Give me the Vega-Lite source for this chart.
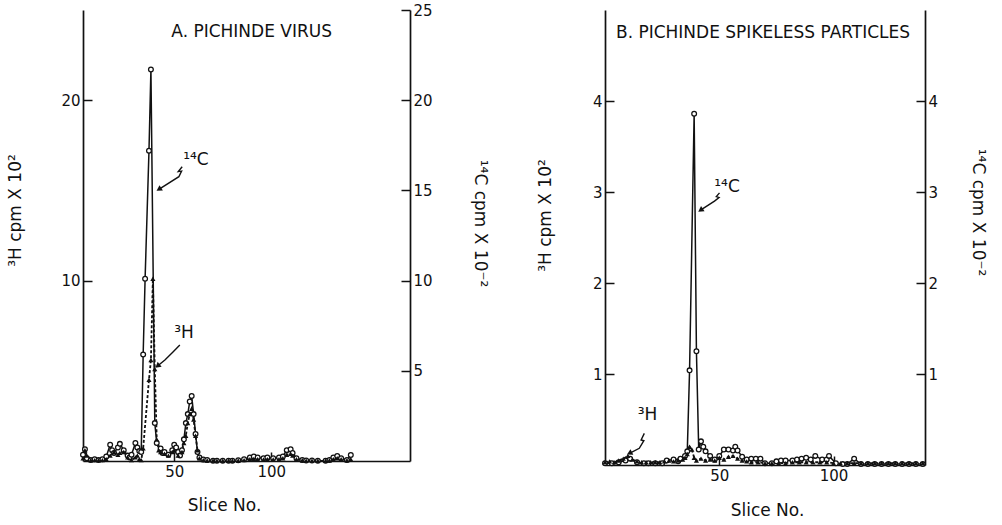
{
  "$schema": "https://vega.github.io/schema/vega-lite/v6.json",
  "background": "white",
  "padding": {"left": 6, "top": 3, "right": 5, "bottom": 5},
  "spacing": 48,
  "config": {
    "view": {"stroke": null},
    "font": "DejaVu Sans",
    "axis": {
      "grid": false,
      "domainColor": "#111",
      "domainWidth": 1.7,
      "tickColor": "#111",
      "tickWidth": 1.5,
      "tickSize": -9,
      "labelPadding": 12,
      "labelColor": "#111",
      "titleColor": "#111",
      "labelFont": "DejaVu Sans",
      "titleFont": "DejaVu Sans",
      "labelFontSize": 15,
      "titleFontSize": 17,
      "titleFontWeight": "normal",
      "titleBaseline": "middle"
    }
  },
  "datasets": {
    "curves": [
      {"panel":"A","isotope":"14C","slice":3,"cpm":0.35},{"panel":"A","isotope":"14C","slice":4,"cpm":0.65},{"panel":"A","isotope":"14C","slice":5,"cpm":0.15},{"panel":"A","isotope":"14C","slice":7,"cpm":0.05},{"panel":"A","isotope":"14C","slice":9,"cpm":0.1},{"panel":"A","isotope":"14C","slice":11,"cpm":0.05},{"panel":"A","isotope":"14C","slice":13,"cpm":0.1},{"panel":"A","isotope":"14C","slice":15,"cpm":0.25},{"panel":"A","isotope":"14C","slice":17,"cpm":0.9},{"panel":"A","isotope":"14C","slice":18,"cpm":0.6},{"panel":"A","isotope":"14C","slice":19,"cpm":0.45},{"panel":"A","isotope":"14C","slice":21,"cpm":0.75},{"panel":"A","isotope":"14C","slice":22,"cpm":0.95},{"panel":"A","isotope":"14C","slice":24,"cpm":0.6},{"panel":"A","isotope":"14C","slice":26,"cpm":0.3},{"panel":"A","isotope":"14C","slice":27,"cpm":0.2},{"panel":"A","isotope":"14C","slice":28,"cpm":0.35},{"panel":"A","isotope":"14C","slice":30,"cpm":1.0},{"panel":"A","isotope":"14C","slice":31,"cpm":0.75},{"panel":"A","isotope":"14C","slice":32,"cpm":0.55},{"panel":"A","isotope":"14C","slice":33,"cpm":0.5},{"panel":"A","isotope":"14C","slice":34,"cpm":5.9},{"panel":"A","isotope":"14C","slice":35,"cpm":10.1},{"panel":"A","isotope":"14C","slice":37,"cpm":17.2},{"panel":"A","isotope":"14C","slice":38,"cpm":21.7},{"panel":"A","isotope":"14C","slice":40,"cpm":2.1},{"panel":"A","isotope":"14C","slice":41,"cpm":1.0},{"panel":"A","isotope":"14C","slice":43,"cpm":0.7},{"panel":"A","isotope":"14C","slice":44,"cpm":0.45},{"panel":"A","isotope":"14C","slice":45,"cpm":0.5},{"panel":"A","isotope":"14C","slice":47,"cpm":0.35},{"panel":"A","isotope":"14C","slice":49,"cpm":0.6},{"panel":"A","isotope":"14C","slice":50,"cpm":0.9},{"panel":"A","isotope":"14C","slice":51,"cpm":0.75},{"panel":"A","isotope":"14C","slice":52,"cpm":0.5},{"panel":"A","isotope":"14C","slice":53,"cpm":0.3},{"panel":"A","isotope":"14C","slice":54,"cpm":0.6},{"panel":"A","isotope":"14C","slice":55,"cpm":1.2},{"panel":"A","isotope":"14C","slice":56,"cpm":2.1},{"panel":"A","isotope":"14C","slice":57,"cpm":2.6},{"panel":"A","isotope":"14C","slice":58,"cpm":3.3},{"panel":"A","isotope":"14C","slice":59,"cpm":3.6},{"panel":"A","isotope":"14C","slice":60,"cpm":2.6},{"panel":"A","isotope":"14C","slice":61,"cpm":1.5},{"panel":"A","isotope":"14C","slice":62,"cpm":0.5},{"panel":"A","isotope":"14C","slice":63,"cpm":0.2},{"panel":"A","isotope":"14C","slice":65,"cpm":0.08},{"panel":"A","isotope":"14C","slice":67,"cpm":0.06},{"panel":"A","isotope":"14C","slice":70,"cpm":0.02},{"panel":"A","isotope":"14C","slice":72,"cpm":0.02},{"panel":"A","isotope":"14C","slice":75,"cpm":0.02},{"panel":"A","isotope":"14C","slice":78,"cpm":0.02},{"panel":"A","isotope":"14C","slice":80,"cpm":0.02},{"panel":"A","isotope":"14C","slice":83,"cpm":0.04},{"panel":"A","isotope":"14C","slice":86,"cpm":0.1},{"panel":"A","isotope":"14C","slice":89,"cpm":0.2},{"panel":"A","isotope":"14C","slice":91,"cpm":0.25},{"panel":"A","isotope":"14C","slice":93,"cpm":0.2},{"panel":"A","isotope":"14C","slice":96,"cpm":0.15},{"panel":"A","isotope":"14C","slice":98,"cpm":0.2},{"panel":"A","isotope":"14C","slice":101,"cpm":0.15},{"panel":"A","isotope":"14C","slice":104,"cpm":0.2},{"panel":"A","isotope":"14C","slice":106,"cpm":0.25},{"panel":"A","isotope":"14C","slice":108,"cpm":0.6},{"panel":"A","isotope":"14C","slice":110,"cpm":0.65},{"panel":"A","isotope":"14C","slice":111,"cpm":0.45},{"panel":"A","isotope":"14C","slice":113,"cpm":0.15},{"panel":"A","isotope":"14C","slice":116,"cpm":0.06},{"panel":"A","isotope":"14C","slice":118,"cpm":0.03},{"panel":"A","isotope":"14C","slice":121,"cpm":0.03},{"panel":"A","isotope":"14C","slice":124,"cpm":0.02},{"panel":"A","isotope":"14C","slice":128,"cpm":0.02},{"panel":"A","isotope":"14C","slice":130,"cpm":0.06},{"panel":"A","isotope":"14C","slice":132,"cpm":0.2},{"panel":"A","isotope":"14C","slice":134,"cpm":0.28},{"panel":"A","isotope":"14C","slice":136,"cpm":0.15},{"panel":"A","isotope":"14C","slice":139,"cpm":0.06},{"panel":"A","isotope":"14C","slice":141,"cpm":0.33},
      {"panel":"A","isotope":"3H","slice":3,"cpm":0.15},{"panel":"A","isotope":"3H","slice":4,"cpm":0.6},{"panel":"A","isotope":"3H","slice":5,"cpm":0.3},{"panel":"A","isotope":"3H","slice":7,"cpm":0.05},{"panel":"A","isotope":"3H","slice":9,"cpm":0.05},{"panel":"A","isotope":"3H","slice":11,"cpm":0.05},{"panel":"A","isotope":"3H","slice":13,"cpm":0.05},{"panel":"A","isotope":"3H","slice":15,"cpm":0.1},{"panel":"A","isotope":"3H","slice":17,"cpm":0.3},{"panel":"A","isotope":"3H","slice":19,"cpm":0.5},{"panel":"A","isotope":"3H","slice":21,"cpm":0.35},{"panel":"A","isotope":"3H","slice":22,"cpm":0.45},{"panel":"A","isotope":"3H","slice":24,"cpm":0.5},{"panel":"A","isotope":"3H","slice":26,"cpm":0.2},{"panel":"A","isotope":"3H","slice":28,"cpm":0.05},{"panel":"A","isotope":"3H","slice":30,"cpm":0.2},{"panel":"A","isotope":"3H","slice":31,"cpm":0.3},{"panel":"A","isotope":"3H","slice":32,"cpm":0.1},{"panel":"A","isotope":"3H","slice":33,"cpm":0.05},{"panel":"A","isotope":"3H","slice":34,"cpm":0.7},{"panel":"A","isotope":"3H","slice":37,"cpm":4.5},{"panel":"A","isotope":"3H","slice":38,"cpm":5.6},{"panel":"A","isotope":"3H","slice":39,"cpm":10.1},{"panel":"A","isotope":"3H","slice":40,"cpm":5.1},{"panel":"A","isotope":"3H","slice":41,"cpm":1.2},{"panel":"A","isotope":"3H","slice":42,"cpm":0.6},{"panel":"A","isotope":"3H","slice":43,"cpm":0.5},{"panel":"A","isotope":"3H","slice":45,"cpm":0.4},{"panel":"A","isotope":"3H","slice":47,"cpm":0.3},{"panel":"A","isotope":"3H","slice":49,"cpm":0.5},{"panel":"A","isotope":"3H","slice":50,"cpm":0.6},{"panel":"A","isotope":"3H","slice":52,"cpm":0.3},{"panel":"A","isotope":"3H","slice":54,"cpm":0.5},{"panel":"A","isotope":"3H","slice":55,"cpm":1.0},{"panel":"A","isotope":"3H","slice":56,"cpm":1.4},{"panel":"A","isotope":"3H","slice":57,"cpm":2.1},{"panel":"A","isotope":"3H","slice":58,"cpm":2.6},{"panel":"A","isotope":"3H","slice":59,"cpm":2.9},{"panel":"A","isotope":"3H","slice":60,"cpm":2.3},{"panel":"A","isotope":"3H","slice":61,"cpm":1.4},{"panel":"A","isotope":"3H","slice":62,"cpm":0.6},{"panel":"A","isotope":"3H","slice":63,"cpm":0.15},{"panel":"A","isotope":"3H","slice":65,"cpm":0.05},{"panel":"A","isotope":"3H","slice":67,"cpm":0.03},{"panel":"A","isotope":"3H","slice":70,"cpm":0.03},{"panel":"A","isotope":"3H","slice":72,"cpm":0.02},{"panel":"A","isotope":"3H","slice":75,"cpm":0.02},{"panel":"A","isotope":"3H","slice":78,"cpm":0.02},{"panel":"A","isotope":"3H","slice":80,"cpm":0.02},{"panel":"A","isotope":"3H","slice":83,"cpm":0.03},{"panel":"A","isotope":"3H","slice":86,"cpm":0.05},{"panel":"A","isotope":"3H","slice":89,"cpm":0.1},{"panel":"A","isotope":"3H","slice":91,"cpm":0.12},{"panel":"A","isotope":"3H","slice":93,"cpm":0.1},{"panel":"A","isotope":"3H","slice":96,"cpm":0.08},{"panel":"A","isotope":"3H","slice":98,"cpm":0.1},{"panel":"A","isotope":"3H","slice":101,"cpm":0.08},{"panel":"A","isotope":"3H","slice":104,"cpm":0.1},{"panel":"A","isotope":"3H","slice":106,"cpm":0.15},{"panel":"A","isotope":"3H","slice":108,"cpm":0.35},{"panel":"A","isotope":"3H","slice":110,"cpm":0.4},{"panel":"A","isotope":"3H","slice":111,"cpm":0.3},{"panel":"A","isotope":"3H","slice":113,"cpm":0.1},{"panel":"A","isotope":"3H","slice":116,"cpm":0.04},{"panel":"A","isotope":"3H","slice":118,"cpm":0.02},{"panel":"A","isotope":"3H","slice":121,"cpm":0.02},{"panel":"A","isotope":"3H","slice":124,"cpm":0.02},{"panel":"A","isotope":"3H","slice":128,"cpm":0.02},{"panel":"A","isotope":"3H","slice":130,"cpm":0.04},{"panel":"A","isotope":"3H","slice":132,"cpm":0.1},{"panel":"A","isotope":"3H","slice":134,"cpm":0.15},{"panel":"A","isotope":"3H","slice":136,"cpm":0.1},{"panel":"A","isotope":"3H","slice":139,"cpm":0.04},{"panel":"A","isotope":"3H","slice":141,"cpm":0.1},
      {"panel":"B","isotope":"14C","slice":0,"cpm":0.02},{"panel":"B","isotope":"14C","slice":3,"cpm":0.02},{"panel":"B","isotope":"14C","slice":6,"cpm":0.03},{"panel":"B","isotope":"14C","slice":9,"cpm":0.05},{"panel":"B","isotope":"14C","slice":11,"cpm":0.07},{"panel":"B","isotope":"14C","slice":14,"cpm":0.03},{"panel":"B","isotope":"14C","slice":17,"cpm":0.02},{"panel":"B","isotope":"14C","slice":19,"cpm":0.02},{"panel":"B","isotope":"14C","slice":22,"cpm":0.02},{"panel":"B","isotope":"14C","slice":25,"cpm":0.02},{"panel":"B","isotope":"14C","slice":27,"cpm":0.05},{"panel":"B","isotope":"14C","slice":30,"cpm":0.06},{"panel":"B","isotope":"14C","slice":32,"cpm":0.04},{"panel":"B","isotope":"14C","slice":33,"cpm":0.07},{"panel":"B","isotope":"14C","slice":35,"cpm":0.1},{"panel":"B","isotope":"14C","slice":36,"cpm":0.15},{"panel":"B","isotope":"14C","slice":37,"cpm":1.04},{"panel":"B","isotope":"14C","slice":39,"cpm":3.86},{"panel":"B","isotope":"14C","slice":40,"cpm":1.25},{"panel":"B","isotope":"14C","slice":41,"cpm":0.17},{"panel":"B","isotope":"14C","slice":42,"cpm":0.26},{"panel":"B","isotope":"14C","slice":43,"cpm":0.2},{"panel":"B","isotope":"14C","slice":44,"cpm":0.15},{"panel":"B","isotope":"14C","slice":46,"cpm":0.1},{"panel":"B","isotope":"14C","slice":48,"cpm":0.06},{"panel":"B","isotope":"14C","slice":50,"cpm":0.1},{"panel":"B","isotope":"14C","slice":52,"cpm":0.17},{"panel":"B","isotope":"14C","slice":54,"cpm":0.17},{"panel":"B","isotope":"14C","slice":56,"cpm":0.16},{"panel":"B","isotope":"14C","slice":57,"cpm":0.2},{"panel":"B","isotope":"14C","slice":58,"cpm":0.16},{"panel":"B","isotope":"14C","slice":60,"cpm":0.09},{"panel":"B","isotope":"14C","slice":62,"cpm":0.06},{"panel":"B","isotope":"14C","slice":64,"cpm":0.07},{"panel":"B","isotope":"14C","slice":66,"cpm":0.07},{"panel":"B","isotope":"14C","slice":68,"cpm":0.07},{"panel":"B","isotope":"14C","slice":70,"cpm":0.02},{"panel":"B","isotope":"14C","slice":73,"cpm":0.02},{"panel":"B","isotope":"14C","slice":75,"cpm":0.04},{"panel":"B","isotope":"14C","slice":77,"cpm":0.05},{"panel":"B","isotope":"14C","slice":79,"cpm":0.05},{"panel":"B","isotope":"14C","slice":82,"cpm":0.05},{"panel":"B","isotope":"14C","slice":84,"cpm":0.06},{"panel":"B","isotope":"14C","slice":86,"cpm":0.07},{"panel":"B","isotope":"14C","slice":88,"cpm":0.08},{"panel":"B","isotope":"14C","slice":90,"cpm":0.06},{"panel":"B","isotope":"14C","slice":92,"cpm":0.1},{"panel":"B","isotope":"14C","slice":95,"cpm":0.06},{"panel":"B","isotope":"14C","slice":97,"cpm":0.06},{"panel":"B","isotope":"14C","slice":98,"cpm":0.1},{"panel":"B","isotope":"14C","slice":101,"cpm":0.02},{"panel":"B","isotope":"14C","slice":104,"cpm":0.01},{"panel":"B","isotope":"14C","slice":106,"cpm":0.01},{"panel":"B","isotope":"14C","slice":109,"cpm":0.07},{"panel":"B","isotope":"14C","slice":112,"cpm":0.01},{"panel":"B","isotope":"14C","slice":115,"cpm":0.01},{"panel":"B","isotope":"14C","slice":118,"cpm":0.01},{"panel":"B","isotope":"14C","slice":121,"cpm":0.01},{"panel":"B","isotope":"14C","slice":124,"cpm":0.01},{"panel":"B","isotope":"14C","slice":127,"cpm":0.01},{"panel":"B","isotope":"14C","slice":130,"cpm":0.01},{"panel":"B","isotope":"14C","slice":133,"cpm":0.01},{"panel":"B","isotope":"14C","slice":136,"cpm":0.01},{"panel":"B","isotope":"14C","slice":139,"cpm":0.01},
      {"panel":"B","isotope":"3H","slice":0,"cpm":0.03},{"panel":"B","isotope":"3H","slice":2,"cpm":0.04},{"panel":"B","isotope":"3H","slice":4,"cpm":0.03},{"panel":"B","isotope":"3H","slice":6,"cpm":0.05},{"panel":"B","isotope":"3H","slice":8,"cpm":0.07},{"panel":"B","isotope":"3H","slice":10,"cpm":0.1},{"panel":"B","isotope":"3H","slice":12,"cpm":0.06},{"panel":"B","isotope":"3H","slice":14,"cpm":0.04},{"panel":"B","isotope":"3H","slice":16,"cpm":0.03},{"panel":"B","isotope":"3H","slice":18,"cpm":0.03},{"panel":"B","isotope":"3H","slice":20,"cpm":0.03},{"panel":"B","isotope":"3H","slice":22,"cpm":0.03},{"panel":"B","isotope":"3H","slice":24,"cpm":0.03},{"panel":"B","isotope":"3H","slice":26,"cpm":0.04},{"panel":"B","isotope":"3H","slice":28,"cpm":0.05},{"panel":"B","isotope":"3H","slice":30,"cpm":0.04},{"panel":"B","isotope":"3H","slice":32,"cpm":0.05},{"panel":"B","isotope":"3H","slice":34,"cpm":0.06},{"panel":"B","isotope":"3H","slice":35,"cpm":0.08},{"panel":"B","isotope":"3H","slice":36,"cpm":0.12},{"panel":"B","isotope":"3H","slice":37,"cpm":0.2},{"panel":"B","isotope":"3H","slice":38,"cpm":0.17},{"panel":"B","isotope":"3H","slice":39,"cpm":0.08},{"panel":"B","isotope":"3H","slice":40,"cpm":0.05},{"panel":"B","isotope":"3H","slice":42,"cpm":0.07},{"panel":"B","isotope":"3H","slice":44,"cpm":0.05},{"panel":"B","isotope":"3H","slice":46,"cpm":0.06},{"panel":"B","isotope":"3H","slice":48,"cpm":0.05},{"panel":"B","isotope":"3H","slice":50,"cpm":0.08},{"panel":"B","isotope":"3H","slice":52,"cpm":0.06},{"panel":"B","isotope":"3H","slice":54,"cpm":0.09},{"panel":"B","isotope":"3H","slice":56,"cpm":0.1},{"panel":"B","isotope":"3H","slice":58,"cpm":0.07},{"panel":"B","isotope":"3H","slice":60,"cpm":0.05},{"panel":"B","isotope":"3H","slice":62,"cpm":0.04},{"panel":"B","isotope":"3H","slice":64,"cpm":0.03},{"panel":"B","isotope":"3H","slice":67,"cpm":0.03},{"panel":"B","isotope":"3H","slice":70,"cpm":0.02},{"panel":"B","isotope":"3H","slice":73,"cpm":0.02},{"panel":"B","isotope":"3H","slice":76,"cpm":0.02},{"panel":"B","isotope":"3H","slice":79,"cpm":0.02},{"panel":"B","isotope":"3H","slice":82,"cpm":0.03},{"panel":"B","isotope":"3H","slice":85,"cpm":0.03},{"panel":"B","isotope":"3H","slice":88,"cpm":0.03},{"panel":"B","isotope":"3H","slice":91,"cpm":0.03},{"panel":"B","isotope":"3H","slice":94,"cpm":0.03},{"panel":"B","isotope":"3H","slice":97,"cpm":0.03},{"panel":"B","isotope":"3H","slice":100,"cpm":0.02},{"panel":"B","isotope":"3H","slice":103,"cpm":0.02},{"panel":"B","isotope":"3H","slice":106,"cpm":0.02},{"panel":"B","isotope":"3H","slice":109,"cpm":0.02},{"panel":"B","isotope":"3H","slice":112,"cpm":0.02},{"panel":"B","isotope":"3H","slice":115,"cpm":0.02},{"panel":"B","isotope":"3H","slice":118,"cpm":0.02},{"panel":"B","isotope":"3H","slice":121,"cpm":0.02},{"panel":"B","isotope":"3H","slice":124,"cpm":0.02},{"panel":"B","isotope":"3H","slice":127,"cpm":0.02},{"panel":"B","isotope":"3H","slice":130,"cpm":0.02},{"panel":"B","isotope":"3H","slice":133,"cpm":0.02},{"panel":"B","isotope":"3H","slice":136,"cpm":0.02},{"panel":"B","isotope":"3H","slice":139,"cpm":0.02}
    ],
    "labels": [
      {"panel":"A","label":"A. PICHINDE  VIRUS","slice":48.5,"cpm":23.8},
      {"panel":"A","label":"¹⁴C","slice":54.6,"cpm":16.7},
      {"panel":"A","label":"³H","slice":50,"cpm":7.1},
      {"panel":"B","label":"B. PICHINDE SPIKELESS PARTICLES","slice":4.8,"cpm":4.75},
      {"panel":"B","label":"¹⁴C","slice":47.8,"cpm":3.05},
      {"panel":"B","label":"³H","slice":14.3,"cpm":0.55}
    ],
    "arrows": [
      {"panel":"A","id":"a14","step":1,"slice":54.1,"cpm":16.31},{"panel":"A","id":"a14","step":2,"slice":52.1,"cpm":16.04},{"panel":"A","id":"a14","step":3,"slice":53.8,"cpm":16.07},{"panel":"A","id":"a14","step":4,"slice":52.4,"cpm":15.76},{"panel":"A","id":"a14","step":5,"slice":42.1,"cpm":15.06},
      {"panel":"A","id":"a3","step":1,"slice":52.9,"cpm":6.43},{"panel":"A","id":"a3","step":2,"slice":49.5,"cpm":6.06},{"panel":"A","id":"a3","step":3,"slice":45.2,"cpm":5.6},{"panel":"A","id":"a3","step":4,"slice":41.4,"cpm":5.27},
      {"panel":"B","id":"b14","step":1,"slice":50.1,"cpm":2.99},{"panel":"B","id":"b14","step":2,"slice":48.7,"cpm":2.95},{"panel":"B","id":"b14","step":3,"slice":49.9,"cpm":2.94},{"panel":"B","id":"b14","step":4,"slice":47.9,"cpm":2.9},{"panel":"B","id":"b14","step":5,"slice":41.8,"cpm":2.8},
      {"panel":"B","id":"b3","step":1,"slice":17.2,"cpm":0.348},{"panel":"B","id":"b3","step":2,"slice":15.8,"cpm":0.275},{"panel":"B","id":"b3","step":3,"slice":17.0,"cpm":0.267},{"panel":"B","id":"b3","step":4,"slice":15.0,"cpm":0.184},{"panel":"B","id":"b3","step":5,"slice":10.7,"cpm":0.129}
    ],
    "heads": [
      {"id":"a14","slice":42.1,"cpm":15.06},
      {"id":"a3","slice":41.4,"cpm":5.27},
      {"id":"b14","slice":41.8,"cpm":2.8},
      {"id":"b3","slice":10.7,"cpm":0.129}
    ]
  },
  "hconcat": [
    {
      "width": 327,
      "height": 451,
      "encoding": {
        "x": {"field": "slice", "type": "quantitative", "scale": {"domain": [3, 171.5], "nice": false, "zero": false},
              "axis": {"values": [50, 100], "title": "Slice No.", "titleX": 141, "titleY": 44, "labelFlush": false}}
      },
      "resolve": {"axis": {"y": "independent"}},
      "layer": [
        {
          "data": {"name": "curves"},
          "transform": [{"filter": "datum.panel == 'A' && datum.isotope == '14C'"}],
          "mark": {"type": "line", "color": "#111", "strokeWidth": 1.5},
          "encoding": {
            "y": {"field": "cpm", "type": "quantitative", "scale": {"domain": [0, 25], "nice": false},
                  "axis": {"orient": "right", "values": [5, 10, 15, 20, 25], "title": "¹⁴C cpm X 10⁻²", "titleX": 69, "titleY": 213, "titleAngle": 90}}
          }
        },
        {
          "data": {"name": "curves"},
          "transform": [{"filter": "datum.panel == 'A' && datum.isotope == '3H'"}],
          "mark": {"type": "line", "color": "#111", "strokeWidth": 1.8, "strokeDash": [3, 2]},
          "encoding": {
            "y": {"field": "cpm", "type": "quantitative", "scale": {"domain": [0, 25], "nice": false},
                  "axis": {"orient": "left", "values": [10, 20], "title": "³H cpm X 10²", "titleX": -68, "titleY": 200, "titleAngle": -90}}
          }
        },
        {
          "data": {"name": "curves"},
          "transform": [{"filter": "datum.panel == 'A' && datum.isotope == '14C'"}],
          "mark": {"type": "point", "shape": "circle", "filled": false, "fill": "white", "stroke": "#111", "strokeWidth": 1.3, "size": 22, "opacity": 1},
          "encoding": {"y": {"field": "cpm", "type": "quantitative", "scale": {"domain": [0, 25], "nice": false}, "axis": null}}
        },
        {
          "data": {"name": "curves"},
          "transform": [{"filter": "datum.panel == 'A' && datum.isotope == '3H'"}],
          "mark": {"type": "point", "shape": "triangle-up", "filled": true, "color": "#111", "size": 26, "opacity": 1},
          "encoding": {"y": {"field": "cpm", "type": "quantitative", "scale": {"domain": [0, 25], "nice": false}, "axis": null}}
        },
        {
          "data": {"name": "labels"},
          "transform": [{"filter": "datum.panel == 'A'"}],
          "mark": {"type": "text", "align": "left", "baseline": "middle", "fontSize": 17, "font": "DejaVu Sans", "color": "#111"},
          "encoding": {"text": {"field": "label"}, "y": {"field": "cpm", "type": "quantitative", "scale": {"domain": [0, 25], "nice": false}, "axis": null}}
        },
        {
          "data": {"name": "arrows"},
          "transform": [{"filter": "datum.panel == 'A'"}],
          "mark": {"type": "line", "color": "#111", "strokeWidth": 1.4},
          "encoding": {"detail": {"field": "id"}, "order": {"field": "step", "type": "quantitative"},
                       "y": {"field": "cpm", "type": "quantitative", "scale": {"domain": [0, 25], "nice": false}, "axis": null}}
        },
        {
          "data": {"name": "heads"},
          "transform": [{"filter": "datum.id == 'a14'"}],
          "mark": {"type": "point", "shape": "triangle-up", "filled": true, "color": "#111", "size": 40, "angle": 238, "opacity": 1},
          "encoding": {"y": {"field": "cpm", "type": "quantitative", "scale": {"domain": [0, 25], "nice": false}, "axis": null}}
        },
        {
          "data": {"name": "heads"},
          "transform": [{"filter": "datum.id == 'a3'"}],
          "mark": {"type": "point", "shape": "triangle-up", "filled": true, "color": "#111", "size": 40, "angle": 231, "opacity": 1},
          "encoding": {"y": {"field": "cpm", "type": "quantitative", "scale": {"domain": [0, 25], "nice": false}, "axis": null}}
        }
      ]
    },
    {
      "width": 320,
      "height": 455,
      "encoding": {
        "x": {"field": "slice", "type": "quantitative", "scale": {"domain": [0, 140], "nice": false, "zero": false},
              "axis": {"values": [50, 100], "title": "Slice No.", "titleX": 162, "titleY": 45, "labelFlush": false}}
      },
      "resolve": {"axis": {"y": "independent"}},
      "layer": [
        {
          "data": {"name": "curves"},
          "transform": [{"filter": "datum.panel == 'B' && datum.isotope == '14C'"}],
          "mark": {"type": "line", "color": "#111", "strokeWidth": 1.5},
          "encoding": {
            "y": {"field": "cpm", "type": "quantitative", "scale": {"domain": [0, 5], "nice": false},
                  "axis": {"orient": "right", "values": [1, 2, 3, 4], "title": "¹⁴C cpm X 10⁻²", "titleX": 52, "titleY": 202, "titleAngle": 90}}
          }
        },
        {
          "data": {"name": "curves"},
          "transform": [{"filter": "datum.panel == 'B' && datum.isotope == '3H'"}],
          "mark": {"type": "line", "color": "#111", "strokeWidth": 1.8, "strokeDash": [3, 2]},
          "encoding": {
            "y": {"field": "cpm", "type": "quantitative", "scale": {"domain": [0, 5], "nice": false},
                  "axis": {"orient": "left", "values": [1, 2, 3, 4], "title": "³H cpm X 10²", "titleX": -60, "titleY": 205, "titleAngle": -90}}
          }
        },
        {
          "data": {"name": "curves"},
          "transform": [{"filter": "datum.panel == 'B' && datum.isotope == '14C'"}],
          "mark": {"type": "point", "shape": "circle", "filled": false, "fill": "white", "stroke": "#111", "strokeWidth": 1.3, "size": 22, "opacity": 1},
          "encoding": {"y": {"field": "cpm", "type": "quantitative", "scale": {"domain": [0, 5], "nice": false}, "axis": null}}
        },
        {
          "data": {"name": "curves"},
          "transform": [{"filter": "datum.panel == 'B' && datum.isotope == '3H'"}],
          "mark": {"type": "point", "shape": "triangle-up", "filled": true, "color": "#111", "size": 26, "opacity": 1},
          "encoding": {"y": {"field": "cpm", "type": "quantitative", "scale": {"domain": [0, 5], "nice": false}, "axis": null}}
        },
        {
          "data": {"name": "labels"},
          "transform": [{"filter": "datum.panel == 'B'"}],
          "mark": {"type": "text", "align": "left", "baseline": "middle", "fontSize": 17, "font": "DejaVu Sans", "color": "#111"},
          "encoding": {"text": {"field": "label"}, "y": {"field": "cpm", "type": "quantitative", "scale": {"domain": [0, 5], "nice": false}, "axis": null}}
        },
        {
          "data": {"name": "arrows"},
          "transform": [{"filter": "datum.panel == 'B'"}],
          "mark": {"type": "line", "color": "#111", "strokeWidth": 1.4},
          "encoding": {"detail": {"field": "id"}, "order": {"field": "step", "type": "quantitative"},
                       "y": {"field": "cpm", "type": "quantitative", "scale": {"domain": [0, 5], "nice": false}, "axis": null}}
        },
        {
          "data": {"name": "heads"},
          "transform": [{"filter": "datum.id == 'b14'"}],
          "mark": {"type": "point", "shape": "triangle-up", "filled": true, "color": "#111", "size": 40, "angle": 236, "opacity": 1},
          "encoding": {"y": {"field": "cpm", "type": "quantitative", "scale": {"domain": [0, 5], "nice": false}, "axis": null}}
        },
        {
          "data": {"name": "heads"},
          "transform": [{"filter": "datum.id == 'b3'"}],
          "mark": {"type": "point", "shape": "triangle-up", "filled": true, "color": "#111", "size": 40, "angle": 243, "opacity": 1},
          "encoding": {"y": {"field": "cpm", "type": "quantitative", "scale": {"domain": [0, 5], "nice": false}, "axis": null}}
        }
      ]
    }
  ]
}
